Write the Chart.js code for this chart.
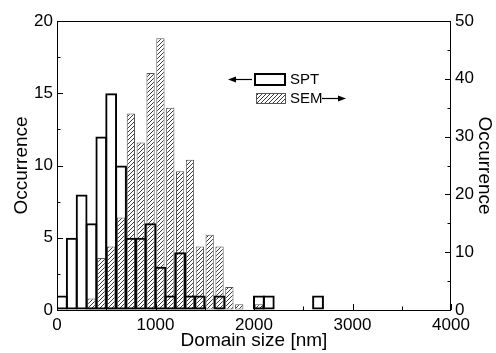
<!DOCTYPE html>
<html>
<head>
<meta charset="utf-8">
<script src="https://cdn.jsdelivr.net/npm/chart.js@4/dist/chart.umd.min.js"></script>
<style>
  html, body { margin: 0; padding: 0; background: #fff; }
  #wrap { width: 496px; height: 353px; position: relative; }
</style>
</head>
<body>
<div id="wrap"><canvas id="c" width="496" height="353"></canvas></div>
<script>
// Bin centres (nm), 100 nm bins from 0 to 4000
const binCenters = [50,150,250,350,450,550,650,750,850,950,1050,1150,1250,1350,1450,1550,1650,1750,1850,1950,
                    2050,2150,2250,2350,2450,2550,2650,2750,2850,2950,3050,3150,3250,3350,3450,3550,3650,3750,3850,3950];
// SPT occurrence (left axis)
const sptCounts = [1,5,8,6,12,15,10,5,5,6,3,1,4,1,1,0,1,0,0,0,1,1,0,0,0,0,1,0,0,0,0,0,0,0,0,0,0,0,0,0];
// SEM occurrence (right axis)
const semCounts = [0,0,0,2,9,11,16,34,29,41,47,35,24,26,11,13,11,4,1,0,1,0,0,0,0,0,0,0,0,0,0,0,0,0,0,0,0,0,0,0];
const xTicks = [0,1000,2000,3000,4000];
const leftTicks = [0,5,10,15,20];
const rightTicks = [0,10,20,30,40,50];
const seriesNames = ['SPT','SEM'];

const FONT = "'Liberation Sans', Arial, Helvetica, sans-serif";

function makeHatch() {
  const s = 4;
  const c = document.createElement('canvas');
  c.width = s; c.height = s;
  const g = c.getContext('2d');
  g.fillStyle = '#fff';
  g.fillRect(0,0,s,s);
  g.strokeStyle = '#222';
  g.lineWidth = 0.9;
  g.beginPath();
  g.moveTo(0, s); g.lineTo(s, 0);
  g.moveTo(-1, 1); g.lineTo(1, -1);
  g.moveTo(s-1, s+1); g.lineTo(s+1, s-1);
  g.stroke();
  return g.createPattern(c, 'repeat');
}
const hatch = makeHatch();

const framePlugin = {
  id: 'frame',
  afterDraw(chart) {
    const {ctx, chartArea: a, scales} = chart;
    ctx.save();
    ctx.strokeStyle = '#000';
    ctx.lineWidth = 1;
    ctx.strokeRect(a.left + 0.5, a.top + 0.5, a.right - a.left - 1, a.bottom - a.top);
    // inward ticks
    const major = 6, minor = 3.5;
    ctx.beginPath();
    const xs = scales.x;
    for (let v = 0; v <= 4000; v += 500) {
      const p = Math.round(xs.getPixelForValue(v)) + 0.5;
      const L = (v % 1000 === 0) ? major : minor;
      ctx.moveTo(p, a.bottom); ctx.lineTo(p, a.bottom - L);
    }
    const yl = scales.y;
    for (let v = 0; v <= 20; v += 2.5) {
      const p = Math.round(yl.getPixelForValue(v)) + 0.5;
      const L = (v % 5 === 0) ? major : minor;
      ctx.moveTo(a.left, p); ctx.lineTo(a.left + L, p);
    }
    const yr = scales.y2;
    for (let v = 0; v <= 50; v += 5) {
      const p = Math.round(yr.getPixelForValue(v)) + 0.5;
      const L = (v % 10 === 0) ? major : minor;
      ctx.moveTo(a.right, p); ctx.lineTo(a.right - L, p);
    }
    ctx.stroke();

    // legend
    ctx.font = "15px " + FONT;
    ctx.textBaseline = 'middle';
    ctx.fillStyle = '#000';
    // SPT
    ctx.lineWidth = 2;
    ctx.strokeRect(255, 74, 30, 11);
    ctx.fillText(seriesNames[0], 290, 80);
    ctx.lineWidth = 1.2;
    ctx.beginPath(); ctx.moveTo(252, 79.5); ctx.lineTo(234, 79.5); ctx.stroke();
    ctx.beginPath(); ctx.moveTo(228, 79.5); ctx.lineTo(236, 76.5); ctx.lineTo(236, 82.5); ctx.closePath(); ctx.fill();
    // SEM
    ctx.fillStyle = hatch;
    ctx.fillRect(256, 93, 30, 11);
    ctx.strokeStyle = '#555';
    ctx.lineWidth = 1;
    ctx.strokeRect(256.5, 93.5, 29, 10);
    ctx.fillStyle = '#000';
    ctx.strokeStyle = '#000';
    ctx.fillText(seriesNames[1], 290, 99);
    ctx.lineWidth = 1.2;
    ctx.beginPath(); ctx.moveTo(322, 98.5); ctx.lineTo(340, 98.5); ctx.stroke();
    ctx.beginPath(); ctx.moveTo(346, 98.5); ctx.lineTo(338, 95.5); ctx.lineTo(338, 101.5); ctx.closePath(); ctx.fill();
    ctx.restore();
  }
};

const tickFont = { family: FONT, size: 17 };
const titleFont = { family: FONT, size: 19 };
const plain = v => String(v);

new Chart(document.getElementById('c'), {
  type: 'bar',
  data: {
    datasets: [
      {
        label: seriesNames[0],
        data: binCenters.map((c, i) => ({ x: c, y: sptCounts[i] > 0 ? sptCounts[i] : null })),
        yAxisID: 'y',
        backgroundColor: 'rgba(0,0,0,0)',
        borderColor: '#000',
        borderWidth: 2,
        borderSkipped: false,
        barPercentage: 1.2,
        categoryPercentage: 1,
        grouped: false,
        order: 0
      },
      {
        label: seriesNames[1],
        data: binCenters.map((c, i) => ({ x: c, y: semCounts[i] > 0 ? semCounts[i] : null })),
        yAxisID: 'y2',
        backgroundColor: hatch,
        borderColor: '#555',
        borderWidth: 1,
        borderSkipped: false,
        barPercentage: 0.84,
        categoryPercentage: 1,
        grouped: false,
        order: 1
      }
    ]
  },
  options: {
    responsive: false,
    animation: false,
    devicePixelRatio: 1,
    layout: { padding: { top: 21, left: 0, right: 0, bottom: 0 } },
    plugins: { legend: { display: false }, tooltip: { enabled: false } },
    scales: {
      x: {
        type: 'linear',
        min: 0, max: 4000,
        offset: false,
        afterBuildTicks: s => { s.ticks = xTicks.map(v => ({ value: v })); },
        afterFit: s => { s.height = 43; },
        grid: { drawOnChartArea: false, drawTicks: false },
        border: { display: false },
        ticks: { color: '#000', font: tickFont, padding: 5, maxRotation: 0, callback: plain },
        title: { display: true, text: 'Domain size [nm]', color: '#000', font: titleFont, padding: { top: 0, bottom: 1 } }
      },
      y: {
        position: 'left',
        min: 0, max: 20,
        afterBuildTicks: s => { s.ticks = leftTicks.map(v => ({ value: v })); },
        afterFit: s => { s.width = 57; },
        grid: { drawOnChartArea: false, drawTicks: false },
        border: { display: false },
        ticks: { color: '#000', font: tickFont, padding: 4, callback: plain },
        title: { display: true, text: 'Occurrence', color: '#000', font: titleFont, padding: { top: 10, bottom: 0 } }
      },
      y2: {
        position: 'right',
        min: 0, max: 50,
        afterBuildTicks: s => { s.ticks = rightTicks.map(v => ({ value: v })); },
        afterFit: s => { s.width = 45; },
        grid: { drawOnChartArea: false, drawTicks: false },
        border: { display: false },
        ticks: { color: '#000', font: tickFont, padding: 4, callback: plain },
        title: { display: true, text: 'Occurrence', color: '#000', font: titleFont, padding: { top: 0, bottom: 0 } }
      }
    }
  },
  plugins: [framePlugin]
});
</script>
</body>
</html>
